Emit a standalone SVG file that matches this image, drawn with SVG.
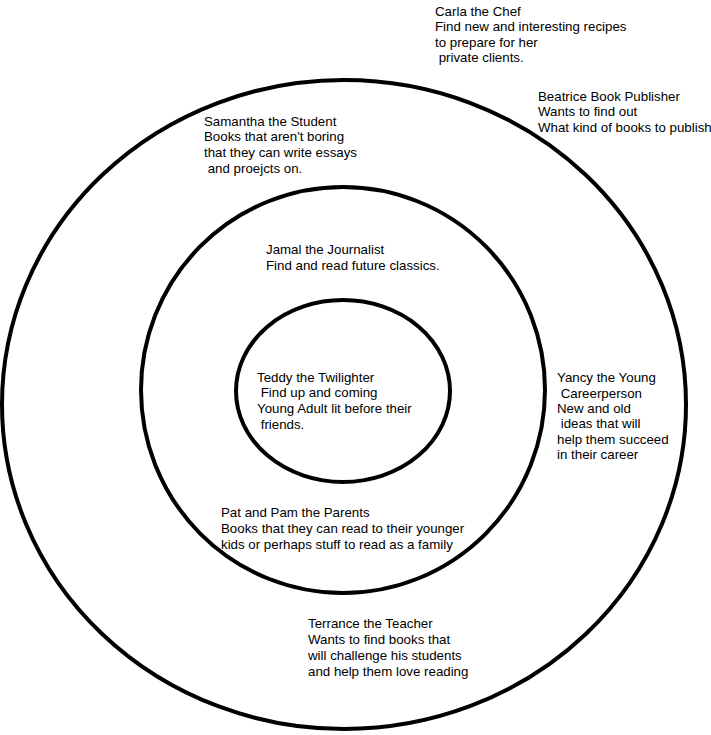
<svg xmlns="http://www.w3.org/2000/svg" width="711" height="735" viewBox="0 0 711 735">
<style>
.ring{fill:none;stroke:#000;stroke-width:4}
.t{font-family:"Liberation Sans",Arial,sans-serif;font-size:13.3px;fill:#000;white-space:pre}
</style>
<rect width="711" height="735" fill="#fff"/>
<g id="rings">
<ellipse id="outer" class="ring" cx="344" cy="404.5" rx="342" ry="324.5"/>
<ellipse id="middle" class="ring" cx="343" cy="390" rx="202" ry="203"/>
<ellipse id="inner" class="ring" cx="343" cy="391" rx="107" ry="91"/>
</g>
<g id="carla"><text class="t" x="435" y="16">Carla the Chef</text><text class="t" x="435" y="31">Find new and interesting recipes</text><text class="t" x="435" y="47">to prepare for her</text><text class="t" x="435" y="62"> private clients.</text></g>
<g id="beatrice"><text class="t" x="538" y="101">Beatrice Book Publisher</text><text class="t" x="538" y="116">Wants to find out</text><text class="t" x="538" y="132">What kind of books to publish</text></g>
<g id="samantha"><text class="t" x="204" y="126">Samantha the Student</text><text class="t" x="204" y="141">Books that aren't boring</text><text class="t" x="204" y="157">that they can write essays</text><text class="t" x="204" y="173"> and proejcts on.</text></g>
<g id="jamal"><text class="t" x="266" y="254">Jamal the Journalist</text><text class="t" x="266" y="270">Find and read future classics.</text></g>
<g id="teddy"><text class="t" x="257" y="382">Teddy the Twilighter</text><text class="t" x="257" y="397"> Find up and coming</text><text class="t" x="257" y="413">Young Adult lit before their</text><text class="t" x="257" y="429"> friends.</text></g>
<g id="yancy"><text class="t" x="557" y="382">Yancy the Young</text><text class="t" x="557" y="398"> Careerperson</text><text class="t" x="557" y="413">New and old</text><text class="t" x="557" y="428"> ideas that will</text><text class="t" x="557" y="444">help them succeed</text><text class="t" x="557" y="459">in their career</text></g>
<g id="pat"><text class="t" x="221" y="517">Pat and Pam the Parents</text><text class="t" x="221" y="533">Books that they can read to their younger</text><text class="t" x="221" y="549">kids or perhaps stuff to read as a family</text></g>
<g id="terrance"><text class="t" x="308" y="628">Terrance the Teacher</text><text class="t" x="308" y="644">Wants to find books that</text><text class="t" x="308" y="660">will challenge his students</text><text class="t" x="308" y="676">and help them love reading</text></g>
</svg>
